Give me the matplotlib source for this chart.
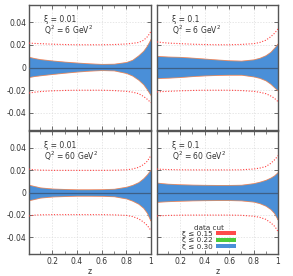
import matplotlib
matplotlib.use("Agg")
import matplotlib.pyplot as plt
from matplotlib.patches import Patch
from matplotlib.ticker import MultipleLocator, FuncFormatter

# z grid shared by all panels
z = [0.01, 0.05, 0.1, 0.2, 0.3, 0.4, 0.5, 0.6, 0.7, 0.8, 0.85, 0.9, 0.94, 0.97, 0.99, 1.0]

# panel labels
xi_labels = ["0.01", "0.1", "0.01", "0.1"]
q2_labels = ["6", "6", "60", "60"]

# blue band (xi <= 0.30), upper / lower, per panel
band_hi_1 = [0.009, 0.008, 0.007, 0.0058, 0.0048, 0.004, 0.0033, 0.0028, 0.003, 0.0045, 0.0065, 0.0105, 0.0145, 0.019, 0.023, 0.025]
band_lo_1 = [-0.008, -0.0072, -0.0065, -0.0053, -0.0042, -0.0032, -0.0024, -0.0019, -0.0022, -0.0045, -0.0068, -0.0105, -0.0145, -0.019, -0.0225, -0.024]
band_hi_2 = [0.0098, 0.0096, 0.0093, 0.009, 0.0083, 0.0075, 0.0067, 0.006, 0.0057, 0.0068, 0.0082, 0.0105, 0.0135, 0.017, 0.0195, 0.021]
band_lo_2 = [-0.009, -0.0088, -0.0086, -0.008, -0.0072, -0.0066, -0.0062, -0.006, -0.006, -0.0075, -0.0088, -0.011, -0.014, -0.017, -0.019, -0.02]
band_hi_3 = [0.0065, 0.0055, 0.0042, 0.0032, 0.0028, 0.0025, 0.0025, 0.0026, 0.003, 0.0048, 0.0065, 0.009, 0.0125, 0.016, 0.019, 0.02]
band_lo_3 = [-0.0065, -0.0055, -0.0042, -0.0032, -0.0028, -0.0025, -0.0025, -0.0026, -0.003, -0.005, -0.007, -0.0098, -0.0135, -0.018, -0.023, -0.025]
band_hi_4 = [0.0085, 0.008, 0.0075, 0.007, 0.0067, 0.0065, 0.0064, 0.0064, 0.0066, 0.008, 0.0093, 0.011, 0.013, 0.015, 0.017, 0.018]
band_lo_4 = [-0.008, -0.0077, -0.0074, -0.007, -0.0067, -0.0065, -0.0064, -0.0064, -0.0067, -0.0078, -0.0092, -0.0115, -0.0145, -0.018, -0.022, -0.024]

# red dotted reference lines, upper / lower, per panel
dot_hi_1 = [0.0215, 0.0212, 0.021, 0.0205, 0.0202, 0.02, 0.02, 0.02, 0.0202, 0.0207, 0.0213, 0.022, 0.024, 0.027, 0.03, 0.032]
dot_lo_1 = [-0.0225, -0.0218, -0.0212, -0.0205, -0.0202, -0.02, -0.02, -0.02, -0.0203, -0.021, -0.0217, -0.023, -0.0255, -0.028, -0.03, -0.031]
dot_hi_2 = [0.0225, 0.022, 0.0215, 0.021, 0.0205, 0.0202, 0.02, 0.02, 0.0203, 0.021, 0.022, 0.024, 0.027, 0.03, 0.0325, 0.034]
dot_lo_2 = [-0.0215, -0.0212, -0.021, -0.0205, -0.0202, -0.02, -0.02, -0.02, -0.0203, -0.021, -0.0218, -0.023, -0.025, -0.027, -0.029, -0.03]
dot_hi_3 = [0.021, 0.0203, 0.02, 0.0198, 0.0198, 0.0198, 0.0198, 0.0198, 0.0199, 0.0203, 0.021, 0.0225, 0.025, 0.028, 0.0315, 0.033]
dot_lo_3 = [-0.021, -0.0203, -0.02, -0.0198, -0.0198, -0.0198, -0.0198, -0.0198, -0.02, -0.0205, -0.0215, -0.0235, -0.0265, -0.0295, -0.0325, -0.034]
dot_hi_4 = [0.021, 0.0207, 0.0205, 0.0203, 0.0202, 0.0202, 0.0202, 0.0202, 0.0203, 0.021, 0.0218, 0.0232, 0.026, 0.029, 0.0315, 0.033]
dot_lo_4 = [-0.021, -0.0207, -0.0205, -0.0203, -0.0202, -0.0202, -0.0202, -0.0202, -0.0204, -0.0212, -0.0222, -0.024, -0.027, -0.030, -0.033, -0.035]

cut_labels = [r"ξ ≤ 0.15", r"ξ ≤ 0.22", r"ξ ≤ 0.30"]
cut_colors = ["#ff4b4b", "#4ccc3a", "#4a8fd8"]

band_hi = [band_hi_1, band_hi_2, band_hi_3, band_hi_4]
band_lo = [band_lo_1, band_lo_2, band_lo_3, band_lo_4]
dot_hi = [dot_hi_1, dot_hi_2, dot_hi_3, dot_hi_4]
dot_lo = [dot_lo_1, dot_lo_2, dot_lo_3, dot_lo_4]

plt.rcParams["font.family"] = "DejaVu Sans"
plt.rcParams["font.size"] = 5.5

fig = plt.figure(figsize=(2.93, 2.76), dpi=100)
W, H = 293.0, 276.0
boxes = [(29, 5, 151, 130), (157, 5, 278, 130), (29, 131, 151, 254), (157, 131, 278, 254)]

spine_col = "#555555"
for i, (x0, y0, x1, y1) in enumerate(boxes):
    ax = fig.add_axes([x0 / W, 1 - y1 / H, (x1 - x0) / W, (y1 - y0) / H])
    ax.set_xlim(0.01, 1.0)
    ax.set_ylim(-0.055, 0.055)
    ax.grid(True, color="#dddddd", linestyle=(0, (2, 2)), linewidth=0.5)
    ax.set_axisbelow(True)

    # data-cut bands, widest underneath
    ax.fill_between(z, band_lo[i], band_hi[i], color=cut_colors[0], edgecolor="#ee8866", linewidth=1.2, zorder=2)
    ax.fill_between(z, band_lo[i], band_hi[i], color=cut_colors[1], edgecolor="#e09070", linewidth=0.7, zorder=2.1)
    ax.fill_between(z, band_lo[i], band_hi[i], color=cut_colors[2], linewidth=0, zorder=2.2)
    ax.axhline(0, color="#3d5f86", linewidth=0.9, zorder=3)
    ax.plot(z, dot_hi[i], color="#ff4040", linestyle=(0, (1, 1.5)), linewidth=0.8, zorder=3)
    ax.plot(z, dot_lo[i], color="#ff4040", linestyle=(0, (1, 1.5)), linewidth=0.8, zorder=3)

    ax.text(0.12, 0.92, "ξ = " + xi_labels[i] + "\n" + r"Q$^2$ = " + q2_labels[i] + r" GeV$^2$",
            transform=ax.transAxes, va="top", ha="left", fontsize=5.5, color="#333333", linespacing=1.0)

    ax.xaxis.set_major_locator(MultipleLocator(0.2))
    ax.xaxis.set_minor_locator(MultipleLocator(0.1))
    ax.yaxis.set_major_locator(MultipleLocator(0.02))
    ax.tick_params(which="both", direction="in", top=True, right=True, color=spine_col,
                   labelcolor="#333333", labelsize=5.5, pad=2)
    ax.tick_params(which="major", length=3, width=0.6)
    ax.tick_params(which="minor", length=2, width=0.5)
    for s in ax.spines.values():
        s.set_color(spine_col)
        s.set_linewidth(1.0)

    ax.yaxis.set_major_formatter(FuncFormatter(lambda v, p: "0" if abs(v) < 1e-9 else "%.2f" % v))
    ax.xaxis.set_major_formatter(FuncFormatter(lambda v, p: "1" if abs(v - 1) < 1e-9 else "%.1f" % v))
    if i % 2 == 1:
        ax.tick_params(labelleft=False)
    if i < 2:
        ax.tick_params(labelbottom=False)
    else:
        ax.set_xlabel("z", fontsize=5.5, labelpad=1, color="#333333")

    if i == 3:
        handles = [Patch(facecolor=c, edgecolor="none") for c in cut_colors]
        leg = ax.legend(handles, cut_labels, title="data cut", loc="lower right",
                        bbox_to_anchor=(0.69, 0.0), frameon=False, markerfirst=False,
                        fontsize=5.2, title_fontsize=5.2, handlelength=2.8, handleheight=0.5,
                        labelspacing=0.05, handletextpad=0.4, borderpad=0.1)
        for t in leg.get_texts():
            t.set_color("#333333")
        leg.get_title().set_color("#333333")

fig.savefig("out.png", dpi=100)
